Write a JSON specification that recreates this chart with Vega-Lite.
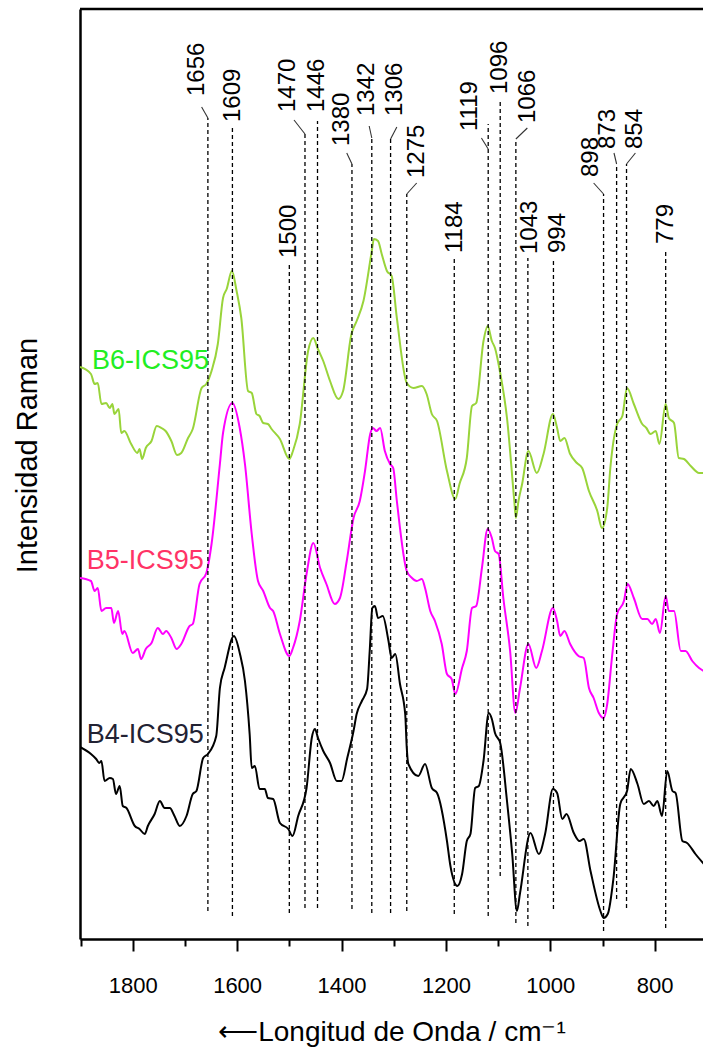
{
  "$schema": "https://vega.github.io/schema/vega-lite/v6.json",
  "width": 623,
  "height": 930,
  "autosize": {"type": "none"},
  "padding": {"left": 80, "top": 9, "right": 0, "bottom": 111},
  "background": "white",
  "config": {"view": {"stroke": null}, "font": "Liberation Sans"},
  "datasets": {
    "spectra": [
      {"serie":"B6","wn":1901,"int":572},{"serie":"B6","wn":1880,"int":565},{"serie":"B6","wn":1873,"int":555},{"serie":"B6","wn":1867,"int":556},{"serie":"B6","wn":1860,"int":535},{"serie":"B6","wn":1851,"int":536},{"serie":"B6","wn":1844,"int":531},{"serie":"B6","wn":1839,"int":535},{"serie":"B6","wn":1835,"int":525},{"serie":"B6","wn":1827,"int":530},{"serie":"B6","wn":1822,"int":506},{"serie":"B6","wn":1816,"int":508},{"serie":"B6","wn":1803,"int":495},{"serie":"B6","wn":1791,"int":486},{"serie":"B6","wn":1787,"int":490},{"serie":"B6","wn":1782,"int":480},{"serie":"B6","wn":1775,"int":491},{"serie":"B6","wn":1764,"int":498},{"serie":"B6","wn":1754,"int":513},{"serie":"B6","wn":1745,"int":511},{"serie":"B6","wn":1737,"int":508},{"serie":"B6","wn":1726,"int":498},{"serie":"B6","wn":1715,"int":484},{"serie":"B6","wn":1707,"int":486},{"serie":"B6","wn":1694,"int":501},{"serie":"B6","wn":1685,"int":510},{"serie":"B6","wn":1668,"int":551},{"serie":"B6","wn":1659,"int":555},{"serie":"B6","wn":1649,"int":568},{"serie":"B6","wn":1637,"int":595},{"serie":"B6","wn":1627,"int":641},{"serie":"B6","wn":1620,"int":650},{"serie":"B6","wn":1610,"int":668},{"serie":"B6","wn":1601,"int":648},{"serie":"B6","wn":1592,"int":621},{"serie":"B6","wn":1579,"int":548},{"serie":"B6","wn":1572,"int":546},{"serie":"B6","wn":1563,"int":525},{"serie":"B6","wn":1557,"int":523},{"serie":"B6","wn":1550,"int":516},{"serie":"B6","wn":1541,"int":515},{"serie":"B6","wn":1534,"int":510},{"serie":"B6","wn":1518,"int":500},{"serie":"B6","wn":1500,"int":480},{"serie":"B6","wn":1493,"int":488},{"serie":"B6","wn":1480,"int":515},{"serie":"B6","wn":1464,"int":588},{"serie":"B6","wn":1454,"int":601},{"serie":"B6","wn":1446,"int":591},{"serie":"B6","wn":1435,"int":578},{"serie":"B6","wn":1422,"int":558},{"serie":"B6","wn":1406,"int":540},{"serie":"B6","wn":1397,"int":548},{"serie":"B6","wn":1381,"int":605},{"serie":"B6","wn":1371,"int":618},{"serie":"B6","wn":1358,"int":638},{"serie":"B6","wn":1342,"int":688},{"serie":"B6","wn":1338,"int":700},{"serie":"B6","wn":1330,"int":698},{"serie":"B6","wn":1323,"int":685},{"serie":"B6","wn":1313,"int":668},{"serie":"B6","wn":1304,"int":663},{"serie":"B6","wn":1294,"int":621},{"serie":"B6","wn":1275,"int":556},{"serie":"B6","wn":1262,"int":551},{"serie":"B6","wn":1246,"int":553},{"serie":"B6","wn":1237,"int":545},{"serie":"B6","wn":1227,"int":525},{"serie":"B6","wn":1217,"int":518},{"serie":"B6","wn":1198,"int":468},{"serie":"B6","wn":1182,"int":440},{"serie":"B6","wn":1174,"int":455},{"serie":"B6","wn":1160,"int":481},{"serie":"B6","wn":1150,"int":533},{"serie":"B6","wn":1142,"int":536},{"serie":"B6","wn":1128,"int":598},{"serie":"B6","wn":1120,"int":613},{"serie":"B6","wn":1112,"int":598},{"serie":"B6","wn":1106,"int":591},{"serie":"B6","wn":1096,"int":566},{"serie":"B6","wn":1083,"int":521},{"serie":"B6","wn":1069,"int":438},{"serie":"B6","wn":1066,"int":421},{"serie":"B6","wn":1061,"int":438},{"serie":"B6","wn":1054,"int":455},{"serie":"B6","wn":1042,"int":488},{"serie":"B6","wn":1026,"int":466},{"serie":"B6","wn":1013,"int":485},{"serie":"B6","wn":995,"int":525},{"serie":"B6","wn":987,"int":511},{"serie":"B6","wn":981,"int":498},{"serie":"B6","wn":973,"int":501},{"serie":"B6","wn":962,"int":485},{"serie":"B6","wn":949,"int":476},{"serie":"B6","wn":939,"int":471},{"serie":"B6","wn":926,"int":448},{"serie":"B6","wn":910,"int":428},{"serie":"B6","wn":901,"int":411},{"serie":"B6","wn":891,"int":431},{"serie":"B6","wn":885,"int":471},{"serie":"B6","wn":872,"int":515},{"serie":"B6","wn":862,"int":523},{"serie":"B6","wn":853,"int":551},{"serie":"B6","wn":840,"int":535},{"serie":"B6","wn":824,"int":515},{"serie":"B6","wn":816,"int":511},{"serie":"B6","wn":808,"int":505},{"serie":"B6","wn":798,"int":508},{"serie":"B6","wn":791,"int":495},{"serie":"B6","wn":779,"int":535},{"serie":"B6","wn":773,"int":521},{"serie":"B6","wn":763,"int":516},{"serie":"B6","wn":754,"int":481},{"serie":"B6","wn":744,"int":480},{"serie":"B6","wn":731,"int":473},{"serie":"B6","wn":715,"int":466},{"serie":"B6","wn":706,"int":466},
      {"serie":"B5","wn":1901,"int":361},{"serie":"B5","wn":1880,"int":358},{"serie":"B5","wn":1873,"int":348},{"serie":"B5","wn":1867,"int":351},{"serie":"B5","wn":1860,"int":328},{"serie":"B5","wn":1851,"int":331},{"serie":"B5","wn":1841,"int":331},{"serie":"B5","wn":1836,"int":316},{"serie":"B5","wn":1828,"int":328},{"serie":"B5","wn":1820,"int":305},{"serie":"B5","wn":1816,"int":308},{"serie":"B5","wn":1800,"int":286},{"serie":"B5","wn":1790,"int":290},{"serie":"B5","wn":1784,"int":280},{"serie":"B5","wn":1775,"int":290},{"serie":"B5","wn":1764,"int":296},{"serie":"B5","wn":1752,"int":311},{"serie":"B5","wn":1742,"int":305},{"serie":"B5","wn":1736,"int":308},{"serie":"B5","wn":1726,"int":301},{"serie":"B5","wn":1716,"int":290},{"serie":"B5","wn":1707,"int":295},{"serie":"B5","wn":1691,"int":313},{"serie":"B5","wn":1685,"int":315},{"serie":"B5","wn":1672,"int":355},{"serie":"B5","wn":1659,"int":366},{"serie":"B5","wn":1649,"int":395},{"serie":"B5","wn":1633,"int":475},{"serie":"B5","wn":1627,"int":506},{"serie":"B5","wn":1609,"int":536},{"serie":"B5","wn":1595,"int":511},{"serie":"B5","wn":1585,"int":475},{"serie":"B5","wn":1572,"int":405},{"serie":"B5","wn":1560,"int":358},{"serie":"B5","wn":1550,"int":348},{"serie":"B5","wn":1537,"int":331},{"serie":"B5","wn":1531,"int":328},{"serie":"B5","wn":1518,"int":305},{"serie":"B5","wn":1500,"int":283},{"serie":"B5","wn":1493,"int":291},{"serie":"B5","wn":1480,"int":318},{"serie":"B5","wn":1467,"int":365},{"serie":"B5","wn":1454,"int":396},{"serie":"B5","wn":1441,"int":371},{"serie":"B5","wn":1429,"int":355},{"serie":"B5","wn":1413,"int":335},{"serie":"B5","wn":1403,"int":341},{"serie":"B5","wn":1390,"int":378},{"serie":"B5","wn":1377,"int":421},{"serie":"B5","wn":1365,"int":438},{"serie":"B5","wn":1355,"int":468},{"serie":"B5","wn":1345,"int":505},{"serie":"B5","wn":1340,"int":511},{"serie":"B5","wn":1333,"int":508},{"serie":"B5","wn":1326,"int":511},{"serie":"B5","wn":1317,"int":488},{"serie":"B5","wn":1307,"int":475},{"serie":"B5","wn":1301,"int":471},{"serie":"B5","wn":1294,"int":438},{"serie":"B5","wn":1275,"int":368},{"serie":"B5","wn":1265,"int":361},{"serie":"B5","wn":1256,"int":358},{"serie":"B5","wn":1246,"int":360},{"serie":"B5","wn":1240,"int":351},{"serie":"B5","wn":1230,"int":328},{"serie":"B5","wn":1221,"int":318},{"serie":"B5","wn":1208,"int":295},{"serie":"B5","wn":1198,"int":265},{"serie":"B5","wn":1189,"int":260},{"serie":"B5","wn":1182,"int":245},{"serie":"B5","wn":1169,"int":271},{"serie":"B5","wn":1160,"int":288},{"serie":"B5","wn":1150,"int":331},{"serie":"B5","wn":1142,"int":333},{"serie":"B5","wn":1131,"int":371},{"serie":"B5","wn":1120,"int":410},{"serie":"B5","wn":1112,"int":401},{"serie":"B5","wn":1106,"int":388},{"serie":"B5","wn":1099,"int":385},{"serie":"B5","wn":1090,"int":341},{"serie":"B5","wn":1077,"int":288},{"serie":"B5","wn":1067,"int":226},{"serie":"B5","wn":1058,"int":251},{"serie":"B5","wn":1042,"int":295},{"serie":"B5","wn":1027,"int":271},{"serie":"B5","wn":1016,"int":288},{"serie":"B5","wn":995,"int":331},{"serie":"B5","wn":987,"int":318},{"serie":"B5","wn":981,"int":303},{"serie":"B5","wn":973,"int":308},{"serie":"B5","wn":962,"int":295},{"serie":"B5","wn":946,"int":283},{"serie":"B5","wn":936,"int":281},{"serie":"B5","wn":926,"int":251},{"serie":"B5","wn":917,"int":241},{"serie":"B5","wn":907,"int":226},{"serie":"B5","wn":898,"int":221},{"serie":"B5","wn":891,"int":235},{"serie":"B5","wn":882,"int":281},{"serie":"B5","wn":872,"int":325},{"serie":"B5","wn":859,"int":338},{"serie":"B5","wn":852,"int":355},{"serie":"B5","wn":840,"int":341},{"serie":"B5","wn":824,"int":320},{"serie":"B5","wn":814,"int":320},{"serie":"B5","wn":805,"int":315},{"serie":"B5","wn":798,"int":320},{"serie":"B5","wn":790,"int":306},{"serie":"B5","wn":779,"int":343},{"serie":"B5","wn":773,"int":328},{"serie":"B5","wn":763,"int":328},{"serie":"B5","wn":750,"int":288},{"serie":"B5","wn":741,"int":288},{"serie":"B5","wn":728,"int":278},{"serie":"B5","wn":715,"int":271},{"serie":"B5","wn":706,"int":268},
      {"serie":"B4","wn":1901,"int":192},{"serie":"B4","wn":1880,"int":185},{"serie":"B4","wn":1870,"int":180},{"serie":"B4","wn":1864,"int":176},{"serie":"B4","wn":1860,"int":178},{"serie":"B4","wn":1854,"int":158},{"serie":"B4","wn":1844,"int":161},{"serie":"B4","wn":1838,"int":160},{"serie":"B4","wn":1832,"int":145},{"serie":"B4","wn":1825,"int":153},{"serie":"B4","wn":1819,"int":133},{"serie":"B4","wn":1812,"int":131},{"serie":"B4","wn":1796,"int":113},{"serie":"B4","wn":1787,"int":110},{"serie":"B4","wn":1777,"int":105},{"serie":"B4","wn":1771,"int":113},{"serie":"B4","wn":1758,"int":125},{"serie":"B4","wn":1748,"int":138},{"serie":"B4","wn":1739,"int":131},{"serie":"B4","wn":1729,"int":131},{"serie":"B4","wn":1720,"int":123},{"serie":"B4","wn":1710,"int":113},{"serie":"B4","wn":1697,"int":123},{"serie":"B4","wn":1685,"int":145},{"serie":"B4","wn":1678,"int":148},{"serie":"B4","wn":1665,"int":181},{"serie":"B4","wn":1656,"int":185},{"serie":"B4","wn":1640,"int":203},{"serie":"B4","wn":1633,"int":251},{"serie":"B4","wn":1624,"int":271},{"serie":"B4","wn":1606,"int":303},{"serie":"B4","wn":1595,"int":286},{"serie":"B4","wn":1585,"int":258},{"serie":"B4","wn":1576,"int":205},{"serie":"B4","wn":1572,"int":171},{"serie":"B4","wn":1566,"int":173},{"serie":"B4","wn":1557,"int":150},{"serie":"B4","wn":1547,"int":150},{"serie":"B4","wn":1541,"int":141},{"serie":"B4","wn":1531,"int":140},{"serie":"B4","wn":1518,"int":116},{"serie":"B4","wn":1502,"int":110},{"serie":"B4","wn":1494,"int":103},{"serie":"B4","wn":1483,"int":123},{"serie":"B4","wn":1467,"int":151},{"serie":"B4","wn":1457,"int":201},{"serie":"B4","wn":1451,"int":210},{"serie":"B4","wn":1445,"int":201},{"serie":"B4","wn":1435,"int":188},{"serie":"B4","wn":1422,"int":176},{"serie":"B4","wn":1409,"int":158},{"serie":"B4","wn":1400,"int":158},{"serie":"B4","wn":1389,"int":181},{"serie":"B4","wn":1377,"int":208},{"serie":"B4","wn":1371,"int":225},{"serie":"B4","wn":1361,"int":238},{"serie":"B4","wn":1351,"int":250},{"serie":"B4","wn":1346,"int":288},{"serie":"B4","wn":1341,"int":331},{"serie":"B4","wn":1336,"int":333},{"serie":"B4","wn":1330,"int":321},{"serie":"B4","wn":1321,"int":323},{"serie":"B4","wn":1310,"int":298},{"serie":"B4","wn":1304,"int":281},{"serie":"B4","wn":1297,"int":285},{"serie":"B4","wn":1288,"int":255},{"serie":"B4","wn":1278,"int":225},{"serie":"B4","wn":1275,"int":191},{"serie":"B4","wn":1272,"int":175},{"serie":"B4","wn":1253,"int":163},{"serie":"B4","wn":1240,"int":175},{"serie":"B4","wn":1227,"int":151},{"serie":"B4","wn":1217,"int":146},{"serie":"B4","wn":1198,"int":98},{"serie":"B4","wn":1192,"int":75},{"serie":"B4","wn":1178,"int":53},{"serie":"B4","wn":1169,"int":65},{"serie":"B4","wn":1160,"int":98},{"serie":"B4","wn":1153,"int":105},{"serie":"B4","wn":1144,"int":151},{"serie":"B4","wn":1137,"int":153},{"serie":"B4","wn":1128,"int":178},{"serie":"B4","wn":1118,"int":226},{"serie":"B4","wn":1112,"int":220},{"serie":"B4","wn":1106,"int":206},{"serie":"B4","wn":1096,"int":196},{"serie":"B4","wn":1083,"int":138},{"serie":"B4","wn":1073,"int":85},{"serie":"B4","wn":1064,"int":28},{"serie":"B4","wn":1058,"int":46},{"serie":"B4","wn":1038,"int":106},{"serie":"B4","wn":1022,"int":85},{"serie":"B4","wn":1010,"int":105},{"serie":"B4","wn":995,"int":150},{"serie":"B4","wn":987,"int":146},{"serie":"B4","wn":977,"int":120},{"serie":"B4","wn":969,"int":125},{"serie":"B4","wn":955,"int":106},{"serie":"B4","wn":944,"int":98},{"serie":"B4","wn":936,"int":100},{"serie":"B4","wn":923,"int":68},{"serie":"B4","wn":904,"int":28},{"serie":"B4","wn":898,"int":21},{"serie":"B4","wn":890,"int":25},{"serie":"B4","wn":879,"int":61},{"serie":"B4","wn":866,"int":135},{"serie":"B4","wn":853,"int":148},{"serie":"B4","wn":846,"int":170},{"serie":"B4","wn":833,"int":155},{"serie":"B4","wn":821,"int":135},{"serie":"B4","wn":811,"int":138},{"serie":"B4","wn":802,"int":133},{"serie":"B4","wn":795,"int":138},{"serie":"B4","wn":786,"int":123},{"serie":"B4","wn":776,"int":168},{"serie":"B4","wn":766,"int":148},{"serie":"B4","wn":760,"int":146},{"serie":"B4","wn":747,"int":98},{"serie":"B4","wn":738,"int":96},{"serie":"B4","wn":722,"int":85},{"serie":"B4","wn":706,"int":75}
    ],
    "peaks": [
      {"p":"1656","wn":1656,"int":28,"int2":821,"bint":821,"cwn":1668,"cint":832,"lwn":1676,"lint":843},
      {"p":"1609","wn":1609,"int":23,"int2":812,"bint":812,"cwn":1609,"cint":812,"lwn":1608,"lint":817},
      {"p":"1500","wn":1500,"int":26,"int2":676,"bint":676,"cwn":1500,"cint":676,"lwn":1500,"lint":681},
      {"p":"1470","wn":1470,"int":31,"int2":805,"bint":805,"cwn":1491,"cint":819,"lwn":1503,"lint":827},
      {"p":"1446","wn":1446,"int":31,"int2":818,"bint":818,"cwn":1446,"cint":818,"lwn":1447,"lint":827},
      {"p":"1380","wn":1380,"int":30,"int2":775,"bint":775,"cwn":1390,"cint":786,"lwn":1399,"lint":793},
      {"p":"1342","wn":1342,"int":26,"int2":801,"bint":801,"cwn":1347,"cint":813,"lwn":1351,"lint":823},
      {"p":"1306","wn":1306,"int":26,"int2":800,"bint":800,"cwn":1294,"cint":812,"lwn":1297,"lint":823},
      {"p":"1275","wn":1275,"int":28,"int2":745,"bint":745,"cwn":1256,"cint":756,"lwn":1255,"lint":761},
      {"p":"1184","wn":1184,"int":25,"int2":683,"bint":683,"cwn":1184,"cint":683,"lwn":1182,"lint":686},
      {"p":"1119","wn":1119,"int":23,"int2":815,"bint":790,"cwn":1132,"cint":801,"lwn":1153,"lint":808},
      {"p":"1096","wn":1096,"int":63,"int2":838,"bint":838,"cwn":1096,"cint":838,"lwn":1096,"lint":845},
      {"p":"1066","wn":1066,"int":16,"int2":800,"bint":800,"cwn":1044,"cint":811,"lwn":1042,"lint":816},
      {"p":"1043","wn":1043,"int":13,"int2":681,"bint":681,"cwn":1043,"cint":681,"lwn":1038,"lint":685},
      {"p":"994","wn":994,"int":30,"int2":678,"bint":678,"cwn":994,"cint":678,"lwn":986,"lint":686},
      {"p":"898","wn":898,"int":8,"int2":745,"bint":745,"cwn":917,"cint":756,"lwn":923,"lint":762},
      {"p":"873","wn":873,"int":40,"int2":775,"bint":775,"cwn":878,"cint":786,"lwn":890,"lint":790},
      {"p":"854","wn":854,"int":31,"int2":775,"bint":775,"cwn":837,"cint":786,"lwn":837,"lint":790},
      {"p":"779","wn":779,"int":11,"int2":688,"bint":688,"cwn":779,"cint":688,"lwn":779,"lint":695}
    ],
    "names": [
      {"name":"B6-ICS95","wn":1878,"int":570},
      {"name":"B5-ICS95","wn":1888,"int":370},
      {"name":"B4-ICS95","wn":1888,"int":196}
    ]
  },
  "layer": [
    {
      "data": {"name": "spectra"},
      "mark": {"type": "line", "strokeWidth": 2, "clip": true, "interpolate": "monotone"},
      "encoding": {
        "x": {"field": "wn", "type": "quantitative",
          "scale": {"domain": [1901, 707.5], "nice": false, "zero": false},
          "title": "⟵Longitud de Onda / cm⁻¹",
          "axis": {
            "values": [1900,1800,1700,1600,1500,1400,1300,1200,1100,1000,900,800],
            "format": "d",
            "labelExpr": "datum.value % 200 === 0 ? datum.label : ''",
            "tickSize": {"condition": {"test": "datum.value % 200 === 0", "value": 12}, "value": 7},
            "tickWidth": 2, "tickColor": "black",
            "domainColor": "black", "domainWidth": 2.5,
            "labelFont": "Liberation Sans", "labelFontSize": 22, "labelColor": "black", "labelPadding": 24,
            "labelOverlap": false, "labelFlush": false,
            "grid": false,
            "titleFont": "Liberation Sans", "titleFontSize": 28, "titleFontWeight": "normal", "titleColor": "black",
            "titleY": 93, "titleBaseline": "middle"
          }
        },
        "y": {"field": "int", "type": "quantitative",
          "scale": {"domain": [0, 930], "nice": false, "zero": false},
          "title": "Intensidad Raman",
          "axis": {
            "domain": true, "domainColor": "black", "domainWidth": 2.5,
            "ticks": false, "labels": false, "grid": false,
            "titleFont": "Liberation Sans", "titleFontSize": 29, "titleFontWeight": "normal", "titleColor": "black",
            "titleX": -53, "titleY": 446, "titleAngle": 270, "titleAlign": "center", "titleBaseline": "middle"
          }
        },
        "color": {"field": "serie", "type": "nominal", "legend": null,
          "scale": {"domain": ["B6", "B5", "B4"], "range": ["#99d43a", "#ff00ff", "#000000"]}},
        "detail": {"field": "serie"}
      }
    },
    {
      "data": {"values": [{"int": 930}]},
      "mark": {"type": "rule", "color": "black", "strokeWidth": 2.5},
      "encoding": {
        "y": {"field": "int", "type": "quantitative", "scale": {"domain": [0, 930], "nice": false, "zero": false}, "title": "Intensidad Raman"}
      }
    },
    {
      "data": {"name": "peaks"},
      "mark": {"type": "rule", "color": "black", "strokeWidth": 1.3, "strokeDash": [4, 3]},
      "encoding": {
        "x": {"field": "wn", "type": "quantitative", "scale": {"domain": [1901, 707.5], "nice": false, "zero": false}, "title": "⟵Longitud de Onda / cm⁻¹"},
        "y": {"field": "int", "type": "quantitative", "scale": {"domain": [0, 930], "nice": false, "zero": false}, "title": "Intensidad Raman"},
        "y2": {"field": "int2"}
      }
    },
    {
      "data": {"name": "peaks"},
      "mark": {"type": "rule", "color": "#333333", "strokeWidth": 1.1},
      "encoding": {
        "x": {"field": "wn", "type": "quantitative", "scale": {"domain": [1901, 707.5], "nice": false, "zero": false}, "title": "⟵Longitud de Onda / cm⁻¹"},
        "y": {"field": "bint", "type": "quantitative", "scale": {"domain": [0, 930], "nice": false, "zero": false}, "title": "Intensidad Raman"},
        "x2": {"field": "cwn"},
        "y2": {"field": "cint"}
      }
    },
    {
      "data": {"name": "peaks"},
      "mark": {"type": "text", "angle": 270, "align": "left", "baseline": "middle", "font": "Liberation Sans", "fontSize": 24, "color": "black"},
      "encoding": {
        "x": {"field": "lwn", "type": "quantitative", "scale": {"domain": [1901, 707.5], "nice": false, "zero": false}, "title": "⟵Longitud de Onda / cm⁻¹"},
        "y": {"field": "lint", "type": "quantitative", "scale": {"domain": [0, 930], "nice": false, "zero": false}, "title": "Intensidad Raman"},
        "text": {"field": "p"}
      }
    },
    {
      "data": {"name": "names"},
      "mark": {"type": "text", "align": "left", "baseline": "alphabetic", "font": "Liberation Sans", "fontSize": 27},
      "encoding": {
        "x": {"field": "wn", "type": "quantitative", "scale": {"domain": [1901, 707.5], "nice": false, "zero": false}, "title": "⟵Longitud de Onda / cm⁻¹"},
        "y": {"field": "int", "type": "quantitative", "scale": {"domain": [0, 930], "nice": false, "zero": false}, "title": "Intensidad Raman"},
        "text": {"field": "name"},
        "color": {"field": "name", "type": "nominal", "legend": null,
          "scale": {"domain": ["B6-ICS95", "B5-ICS95", "B4-ICS95"], "range": ["#22ee22", "#ff3366", "#222233"]}}
      }
    }
  ],
  "resolve": {"scale": {"color": "independent"}}
}
